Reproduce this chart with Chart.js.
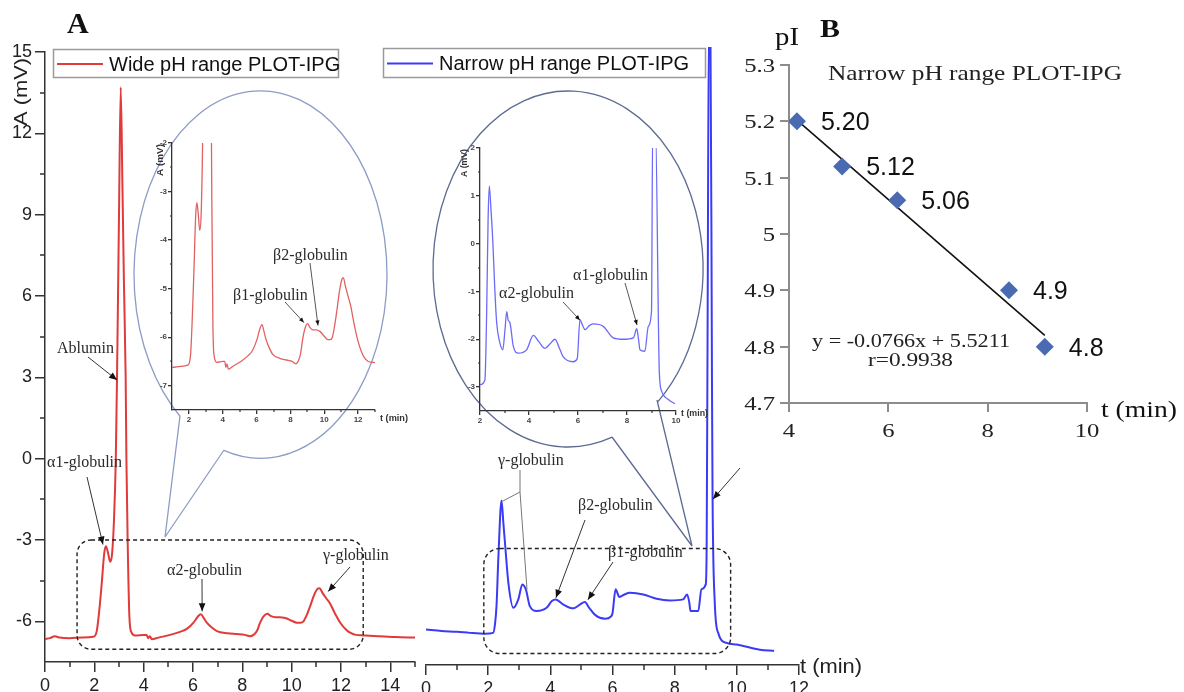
<!DOCTYPE html>
<html><head><meta charset="utf-8">
<script src="https://cdn.jsdelivr.net/npm/chart.js@4.4.0/dist/chart.umd.min.js"></script>
<style>
html,body{margin:0;padding:0;background:#fff;}
#wrap{position:relative;width:1184px;height:692px;overflow:hidden;background:#fff}
canvas{position:absolute;left:0;top:0;}
</style></head><body>
<div id="wrap">
<canvas id="cL" width="1184" height="692"></canvas>
<canvas id="cM" width="1184" height="692"></canvas>
<canvas id="cB" width="1184" height="692"></canvas>
<canvas id="cLi" width="1184" height="692"></canvas>
<canvas id="cMi" width="1184" height="692"></canvas>
</div>
<script>
// ---------------- DATA ----------------
// Wide pH range PLOT-IPG (red): time (min) and absorbance (mV)
const wideT = [0,0.2,0.4,0.6,1.0,1.5,1.96,2.1,2.2,2.3,2.4,2.47,2.55,2.64,2.72,2.8,2.87,2.92,3.0,3.07,3.14,3.2,3.27,3.3,3.35,3.42,3.5,3.65,4.0,4.12,4.18,4.25,4.33,4.6,5.07,5.5,5.75,6.02,6.2,6.32,6.45,6.56,6.75,6.97,7.4,7.78,8.1,8.32,8.45,8.59,8.72,8.86,9.02,9.15,9.33,9.5,9.74,10.0,10.21,10.35,10.48,10.62,10.75,10.9,11.05,11.13,11.25,11.4,11.56,11.75,11.97,12.2,12.37,12.6,12.91,13.5,14.2,15.0];
const wideA = [-6.65,-6.62,-6.55,-6.6,-6.62,-6.6,-6.57,-6.35,-5.6,-4.6,-3.5,-3.23,-3.45,-3.8,-3.5,-2.2,0,3.0,9.0,13.7,10.0,6.5,3.0,0,-3.0,-5.8,-6.4,-6.52,-6.5,-6.5,-6.62,-6.55,-6.66,-6.6,-6.5,-6.38,-6.28,-6.05,-5.82,-5.74,-5.9,-6.05,-6.22,-6.36,-6.44,-6.47,-6.5,-6.55,-6.5,-6.36,-6.05,-5.82,-5.72,-5.8,-5.85,-5.85,-5.88,-5.98,-6.05,-6.05,-6.0,-5.75,-5.44,-5.05,-4.8,-4.78,-4.95,-5.15,-5.35,-5.7,-6.05,-6.3,-6.42,-6.5,-6.52,-6.55,-6.58,-6.6];
// Narrow pH range PLOT-IPG (blue), main trace
const narrowT = [0,0.5,1.0,1.41,1.9,2.16,2.22,2.27,2.33,2.43,2.49,2.54,2.65,2.81,2.97,3.1,3.16,3.22,3.34,3.56,3.88,4.05,4.17,4.42,4.74,4.95,5.11,5.25,5.43,5.76,5.95,6.0,6.1,6.22,6.4,6.56,6.99,7.42,7.85,8.27,8.4,8.47,8.51,8.76,8.86,9.0,9.03,9.06,9.1,9.15,9.2,9.22,9.29,9.4,9.67,10.0,10.74,11.2];
const narrowA = [-6.2,-6.25,-6.28,-6.32,-6.35,-6.32,-6.0,-5.3,-3.5,-1.46,-2.3,-3.0,-4.48,-5.4,-5.09,-4.54,-4.6,-4.75,-5.34,-5.52,-5.4,-5.15,-5.09,-5.28,-5.42,-5.28,-5.19,-5.4,-5.65,-5.8,-5.72,-5.6,-4.72,-5.0,-4.9,-4.85,-4.91,-5.07,-5.13,-5.09,-4.91,-5.2,-5.52,-5.52,-4.72,-4.54,-3.0,5.0,16.0,16.0,3.0,-1.4,-5.2,-6.32,-6.69,-6.75,-6.94,-6.98];
// Narrow pH range, enlarged inset trace
const narrowZoomT = [2.0,2.2,2.27,2.33,2.38,2.45,2.52,2.6,2.68,2.8,2.93,3.02,3.09,3.15,3.22,3.36,3.56,3.9,4.18,4.4,4.65,4.85,5.06,5.25,5.4,5.8,5.97,6.08,6.18,6.29,6.45,6.62,7.03,7.44,7.85,8.26,8.4,8.47,8.53,8.73,8.87,9.0,9.05,9.16,9.32,9.41,9.69,9.96];
const narrowZoomA = [-2.95,-2.85,-1.5,0.5,1.2,0.7,0.08,-0.9,-1.65,-2.05,-2.22,-1.8,-1.42,-1.6,-1.65,-2.15,-2.29,-2.22,-1.92,-2.05,-2.19,-2.1,-2.0,-2.2,-2.37,-2.47,-2.4,-1.59,-1.7,-1.8,-1.72,-1.68,-1.73,-1.97,-2.0,-1.97,-1.78,-2.0,-2.22,-2.25,-1.73,-1.42,2.5,2.5,-2.7,-3.08,-3.26,-3.35];
// Panel B: pI vs migration time
const pIT = [4.16,5.07,6.18,8.43,9.15];
const pIVal = [5.20,5.12,5.06,4.90,4.80];
const pILabels = ['5.20','5.12','5.06','4.9','4.8'];
const fitT = [4.16,9.15];
const fitPI = [5.202,4.82];
// Ticks
const wideXTicks = [0,2,4,6,8,10,12,14];
const wideXMinor = [1,3,5,7,9,11,13,15];
const wideYTicks = [-6,-3,0,3,6,9,12,15];
const wideYMinor = [-4.5,-1.5,1.5,4.5,7.5,10.5,13.5];
const narrowXTicks = [0,2,4,6,8,10,12];
const narrowXMinor = [1,3,5,7,9,11];
const wideZoomXTicks = [2,4,6,8,10,12];
const wideZoomXMinor = [3,5,7,9,11,13];
const wideZoomYTicks = [-7,-6,-5,-4,-3,-2];
const wideZoomYMinor = [-6.5,-5.5,-4.5,-3.5,-2.5];
const narrowZoomXTicks = [2,4,6,8,10];
const narrowZoomXMinor = [3,5,7,9];
const narrowZoomYTicks = [-3,-2,-1,0,1,2];
const narrowZoomYMinor = [-2.5,-1.5,-0.5,0.5,1.5];
const pIXTicks = [4,6,8,10];
const pIYTicks = [4.7,4.8,4.9,5.0,5.1,5.2,5.3];
const pIYLabels = ['4.7','4.8','4.9','5','5.1','5.2','5.3'];
// Zoom windows (dashed boxes) in data units: [t0, t1, Atop, Abottom]
const wideBox = [1.3,12.9,-3.0,-7.03];
const narrowBox = [1.86,9.8,-3.22,-7.08];

// ---------------- HELPERS ----------------
const SANS = "'Liberation Sans', Arial, sans-serif";
const SERIF = "'Liberation Serif', 'Times New Roman', serif";
const pts = (ts, vs) => ts.map((t,i)=>({x:t,y:vs[i]}));

function txt(ctx, s, x, y, font, color, opt){
  opt = opt || {};
  ctx.save(); ctx.font = font; ctx.fillStyle = color; ctx.textBaseline = 'alphabetic'; ctx.textAlign='left';
  const w = ctx.measureText(s).width;
  let sx = opt.w ? opt.w / w : (opt.sx || 1);
  ctx.translate(x, y);
  if (opt.rot) ctx.rotate(opt.rot);
  let x0 = 0;
  if (opt.align === 'right') x0 = -w*sx; else if (opt.align === 'center') x0 = -w*sx/2;
  ctx.translate(x0, 0);
  ctx.scale(sx, 1);
  ctx.fillText(s, 0, 0);
  ctx.restore();
}
function arrow(ctx, x1, y1, x2, y2, head, color, lw){
  color = color || '#333';
  ctx.save(); ctx.strokeStyle = color; ctx.fillStyle = '#111'; ctx.lineWidth = lw || 1;
  ctx.beginPath(); ctx.moveTo(x1,y1); ctx.lineTo(x2,y2); ctx.stroke();
  if (head){
    const a = Math.atan2(y2-y1, x2-x1), L = head, W = head*0.42;
    ctx.beginPath();
    ctx.moveTo(x2, y2);
    ctx.lineTo(x2 - L*Math.cos(a) + W*Math.sin(a), y2 - L*Math.sin(a) - W*Math.cos(a));
    ctx.lineTo(x2 - L*Math.cos(a) - W*Math.sin(a), y2 - L*Math.sin(a) + W*Math.cos(a));
    ctx.closePath(); ctx.fill();
  }
  ctx.restore();
}
function px(ch, t, a){ return [ch.scales.x.getPixelForValue(t), ch.scales.y.getPixelForValue(a)]; }
function dashedBox(ch, b, r){
  const c = ch.ctx; const [x0,y0] = px(ch,b[0],b[2]); const [x1,y1] = px(ch,b[1],b[3]);
  c.save(); c.setLineDash([4,3]); c.strokeStyle = '#222'; c.lineWidth = 1.4;
  c.beginPath(); c.roundRect(x0,y0,x1-x0,y1-y0,r); c.stroke(); c.restore();
}
function callout(c, cx, cy, rx, ry, gapFrom, gapTo, tails, color){
  c.save(); c.strokeStyle = color; c.lineWidth = 1.3;
  c.beginPath(); c.ellipse(cx, cy, rx, ry, 0, gapTo*Math.PI/180, (gapFrom+360)*Math.PI/180); c.stroke();
  c.beginPath();
  tails.forEach(s => { c.moveTo(s[0],s[1]); c.lineTo(s[2],s[3]); });
  c.stroke(); c.restore();
}
function legendBox(c, x, y, w, h, color, label){
  c.save(); c.fillStyle = '#fff'; c.fillRect(x,y,w,h);
  c.strokeStyle = '#9a9a9a'; c.lineWidth = 1.5; c.strokeRect(x+0.5,y+0.5,w,h);
  c.strokeStyle = color; c.lineWidth = 2; c.beginPath(); c.moveTo(x+4, y+h/2+1); c.lineTo(x+50, y+h/2+1); c.stroke();
  c.restore();
  txt(c, label, x+56, y+22, '20px '+SANS, '#111');
}
function minorTicks(xm, ym, len, color, lw){
  return { id:'minor', afterDraw(ch){
    const c = ch.ctx, a = ch.chartArea, sx = ch.scales.x, sy = ch.scales.y;
    c.save(); c.strokeStyle = color; c.lineWidth = lw; c.beginPath();
    xm.forEach(v => { const p = Math.round(sx.getPixelForValue(v)); c.moveTo(p, a.bottom); c.lineTo(p, a.bottom+len); });
    if (sy.options.display !== false) ym.forEach(v => { const p = Math.round(sy.getPixelForValue(v)); c.moveTo(a.left, p); c.lineTo(a.left-len, p); });
    c.stroke(); c.restore();
  }};
}
function axis(min, max, ticks, o){
  return {
    type:'linear', min:min, max:max, display: o.display !== false,
    afterBuildTicks: s => { s.ticks = ticks.map(v => ({value:v})); },
    afterFit: s => { if (o.size != null){ if (s.isHorizontal()) s.height = o.size; else s.width = o.size; } },
    ticks: { display: o.labels !== false, autoSkip:false, maxRotation:0, padding: o.pad != null ? o.pad : 3,
      font: { family: o.family || SANS, size: o.fs || 17, weight: o.weight || 'normal' }, color: o.tc || '#222',
      callback: (v) => String(v) },
    grid: { drawOnChartArea:false, drawTicks:true, tickLength: o.tl || 10, tickColor: o.ac || '#333', tickWidth: o.lw || 1.5, color: o.ac || '#333', lineWidth: o.lw || 1.5 },
    border: { display:true, color: o.ac || '#333', width: o.lw || 1.5 }
  };
}
const baseOpts = (pad, scales) => ({
  responsive:false, animation:false, events:[], devicePixelRatio:1,
  layout:{ padding: pad, autoPadding:false },
  plugins:{ legend:{display:false}, tooltip:{enabled:false} },
  scales: scales
});

// ---------------- LEFT MAIN (wide) ----------------
new Chart(document.getElementById('cL'), {
  type:'line',
  data:{ datasets:[{ data: pts(wideT, wideA), borderColor:'#e03a3a', borderWidth:2, pointRadius:0, cubicInterpolationMode:'monotone', fill:false }]},
  options: baseOpts({left:0, top:52, right:1184-415, bottom:0}, {
    x: axis(0, 15, wideXTicks, {size:30, fs:18}),
    y: axis(-7.5, 15, wideYTicks, {size:45, fs:18})
  }),
  plugins:[ minorTicks(wideXMinor, wideYMinor, 5, '#333', 1.5), { id:'decorL', afterDraw(ch){
    const c = ch.ctx;
    callout(c, 260.5, 274.5, 126.5, 183.7, 106.8, 129.5, [[180,416,165,537],[224,450,165,537]], '#8d9cc6');
    dashedBox(ch, wideBox, 14);
    legendBox(c, 53, 49, 285, 28, '#e03a3a', 'Wide pH range PLOT-IPG');
    txt(c, 'A', 67, 33, 'bold 30px '+SERIF, '#111');
    txt(c, 'A (mV)', 27, 126, '18px '+SANS, '#222', {rot:-Math.PI/2, w:68});
    const F = '16px '+SERIF, C = '#2a2a2a';
    txt(c, 'Ablumin', 57, 353, F, C);
    let p = px(ch, 2.92, 2.9); arrow(c, 88, 357, p[0], p[1], 8);
    txt(c, 'α1-globulin', 47, 467, F, C);
    p = px(ch, 2.35, -3.17); arrow(c, 87, 477, p[0], p[1], 8);
    txt(c, 'α2-globulin', 167, 575, F, C);
    p = px(ch, 6.37, -5.63); arrow(c, 202, 579, p[0], p[1], 8);
    txt(c, 'γ-globulin', 323, 560, F, C);
    p = px(ch, 11.48, -4.9); arrow(c, 350, 567, p[0], p[1], 8);
  }}]
});

// ---------------- MIDDLE MAIN (narrow) ----------------
new Chart(document.getElementById('cM'), {
  type:'line',
  data:{ datasets:[{ data: pts(narrowT, narrowA), borderColor:'#3b3bf5', borderWidth:2, pointRadius:0, cubicInterpolationMode:'monotone', fill:false }]},
  options: baseOpts({left:426, top:47, right:1184-799, bottom:0}, {
    x: axis(0, 12, narrowXTicks, {size:27, fs:18}),
    y: axis(-7.5, 15.2, [], {display:false})
  }),
  plugins:[ minorTicks(narrowXMinor, [], 5, '#333', 1.5), { id:'decorM', afterDraw(ch){
    const c = ch.ctx;
    callout(c, 568, 269, 135, 178, 48.2, 70.9, [[612,437,692,546],[657,400,692,546]], '#5d6b93');
    dashedBox(ch, narrowBox, 16);
    legendBox(c, 383, 48, 322, 29, '#3b3bf5', 'Narrow pH range PLOT-IPG');
    txt(c, 't (min)', 800, 673, '20px '+SANS, '#222', {w:62});
    const F = '16px '+SERIF, C = '#2a2a2a';
    txt(c, 'γ-globulin', 498, 465, F, C);
    let p1 = px(ch, 2.45, -1.49), p2 = px(ch, 3.25, -4.73);
    arrow(c, 520, 470, 520, 492, 0, '#777'); arrow(c, 520, 492, p1[0], p1[1], 0, '#777'); arrow(c, 520, 492, p2[0], p2[1], 0, '#777');
    txt(c, 'β2-globulin', 578, 510, F, C);
    let p = px(ch, 4.18, -5.03); arrow(c, 585, 520, p[0], p[1], 8);
    txt(c, 'β1-globulin', 608, 557, F, C);
    p = px(ch, 5.21, -5.1); arrow(c, 613, 562, p[0], p[1], 8);
    p = px(ch, 9.23, -1.41); arrow(c, 740, 468, p[0], p[1], 8);
  }}]
});

// ---------------- PANEL B ----------------
new Chart(document.getElementById('cB'), {
  type:'line',
  data:{ datasets:[
    { data: pts(fitT, fitPI), borderColor:'#111', borderWidth:1.6, pointRadius:0, fill:false, order:2 },
    { data: pts(pIT, pIVal), showLine:false, pointStyle:'rectRot', pointRadius:9, pointBackgroundColor:'#4a6ab2', pointBorderColor:'#4a6ab2', borderWidth:0, order:1 }
  ]},
  options: baseOpts({left:745, top:65, right:1184-1087, bottom:692-403-30}, {
    x: axis(4, 10, pIXTicks, {size:30, labels:false, ac:'#8c8c8c', lw:2, tl:9}),
    y: axis(4.7, 5.3, pIYTicks, {size:44, labels:false, ac:'#8c8c8c', lw:2, tl:9})
  }),
  plugins:[{ id:'decorB', afterDraw(ch){
    const c = ch.ctx, sx = ch.scales.x, sy = ch.scales.y;
    const TF = '19px '+SERIF;
    pIYTicks.forEach((v,i) => txt(c, pIYLabels[i], 775, sy.getPixelForValue(v)+7, TF, '#222', {align:'right', sx:1.3}));
    pIXTicks.forEach(v => txt(c, String(v), sx.getPixelForValue(v), 437, TF, '#222', {align:'center', sx:1.3}));
    pIT.forEach((t,i) => { const p = px(ch, t, pIVal[i]); txt(c, pILabels[i], p[0]+24, p[1]+9, '25px '+SANS, '#111'); });
    txt(c, 'pI', 775, 45, '25px '+SERIF, '#111', {sx:1.15});
    txt(c, 'B', 820, 37, 'bold 26px '+SERIF, '#111', {sx:1.15});
    txt(c, 'Narrow pH range PLOT-IPG', 828, 80, '21px '+SERIF, '#222', {w:294});
    txt(c, 'y = -0.0766x + 5.5211', 812, 347, '19px '+SERIF, '#222', {w:198});
    txt(c, 'r=0.9938', 868, 366, '19px '+SERIF, '#222', {w:85});
    txt(c, 't (min)', 1101, 417, '24px '+SERIF, '#111', {w:76});
  }}]
});

// ---------------- LEFT INSET ----------------
new Chart(document.getElementById('cLi'), {
  type:'line',
  data:{ datasets:[{ data: pts(wideT, wideA), borderColor:'#e06262', borderWidth:1.3, pointRadius:0, cubicInterpolationMode:'monotone', fill:false }]},
  options: baseOpts({left:152, top:143, right:1184-375, bottom:692-410-16}, {
    x: axis(1, 13, wideZoomXTicks, {size:16, fs:8, weight:'bold', tl:4, lw:1.3, pad:1, tc:'#444'}),
    y: axis(-7.5, -2, wideZoomYTicks, {size:20, fs:8, weight:'bold', tl:4, lw:1.3, pad:1, tc:'#444'})
  }),
  plugins:[ minorTicks(wideZoomXMinor, wideZoomYMinor, 2, '#333', 1.2), { id:'decorLi', afterDraw(ch){
    const c = ch.ctx;
    txt(c, 'A (mV)', 163, 176, 'bold 9px '+SANS, '#333', {rot:-Math.PI/2, w:32});
    txt(c, 't (min)', 380, 421, 'bold 9px '+SANS, '#333', {w:28});
    const F = '16px '+SERIF, C = '#2a2a2a';
    txt(c, 'β2-globulin', 273, 260, F, C);
    let p = px(ch, 9.63, -5.76); arrow(c, 310, 263, p[0], p[1], 5, '#555');
    txt(c, 'β1-globulin', 233, 300, F, C);
    p = px(ch, 8.8, -5.7); arrow(c, 285, 302, p[0], p[1], 5, '#555');
  }}]
});

// ---------------- MIDDLE INSET ----------------
new Chart(document.getElementById('cMi'), {
  type:'line',
  data:{ datasets:[{ data: pts(narrowZoomT, narrowZoomA), borderColor:'#6b6bf8', borderWidth:1.3, pointRadius:0, cubicInterpolationMode:'monotone', fill:false }]},
  options: baseOpts({left:460, top:148, right:1184-676, bottom:692-411-16}, {
    x: axis(2, 10, narrowZoomXTicks, {size:16, fs:8, weight:'bold', tl:4, lw:1.3, pad:1, tc:'#444'}),
    y: axis(-3.5, 2, narrowZoomYTicks, {size:20, fs:8, weight:'bold', tl:4, lw:1.3, pad:1, tc:'#444'})
  }),
  plugins:[ minorTicks(narrowZoomXMinor, narrowZoomYMinor, 2, '#333', 1.2), { id:'decorMi', afterDraw(ch){
    const c = ch.ctx;
    txt(c, 'A (mV)', 467, 177, 'bold 9px '+SANS, '#333', {rot:-Math.PI/2, w:28});
    txt(c, 't (min)', 681, 416, 'bold 9px '+SANS, '#333', {w:27});
    const F = '16px '+SERIF, C = '#2a2a2a';
    txt(c, 'α2-globulin', 499, 298, F, C);
    let p = px(ch, 6.08, -1.6); arrow(c, 563, 302, p[0], p[1], 5, '#555');
    txt(c, 'α1-globulin', 573, 280, F, C);
    p = px(ch, 8.41, -1.7); arrow(c, 625, 283, p[0], p[1], 5, '#555');
  }}]
});
</script>
</body></html>
